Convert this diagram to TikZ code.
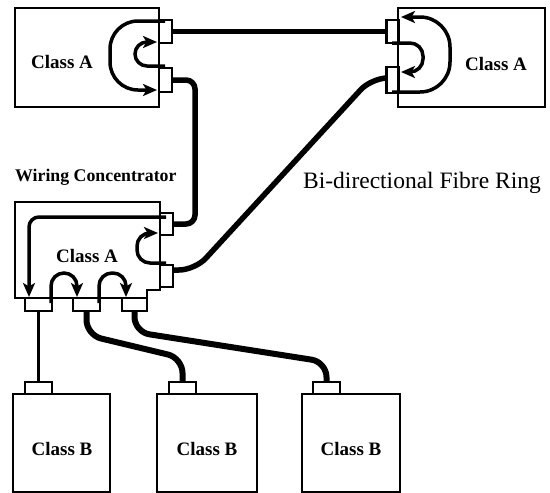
\documentclass[tikz,border=0pt]{standalone}
\usepackage{fontspec}
\setmainfont{Liberation Serif}
\usetikzlibrary{arrows.meta}
\begin{document}
\begin{tikzpicture}[x=1pt,y=-1pt,
  box/.style={draw, line width=2.9pt, inner sep=0pt, outer sep=0pt, line join=miter},
  port/.style={draw, line width=2.3pt, inner sep=0pt, outer sep=0pt},
  lbl/.style={font=\fontsize{19}{21}\selectfont\bfseries, inner sep=0pt},
  ring/.style={line width=5.5pt, rounded corners=9pt},
  feed/.style={line width=6pt, rounded corners=15pt},
  innerloop/.style={line width=3.5pt, -{Stealth[length=14pt,width=12pt,inset=3.5pt]}},
]
\useasboundingbox (0,0) rectangle (550,493);

% boxes
\node[box, minimum width=144pt, minimum height=99pt] (tlA) at (87,57.5) {};
\node[box, minimum width=147pt, minimum height=99pt] (trA) at (471.5,57.5) {};
\draw[line width=2.9pt] (15,202) -- (160,202) -- (160,290) -- (147,290) -- (147,298) -- (15,298) -- cycle;
\node[box, minimum width=97pt, minimum height=98pt] (b1) at (61.5,443) {};
\node[box, minimum width=100pt, minimum height=98pt] (b2) at (207,443) {};
\node[box, minimum width=98pt, minimum height=98pt] (b3) at (351,443) {};

% ports
\node[port, minimum width=13pt, minimum height=23pt] (tlP1) at (165.5,31.5) {};
\node[port, minimum width=13pt, minimum height=24pt] (tlP2) at (165.5,80) {};
\node[port, minimum width=12pt, minimum height=23pt] (trP1) at (392.5,31.5) {};
\node[port, minimum width=12pt, minimum height=26pt] (trP2) at (392.5,80) {};
\node[port, minimum width=13pt, minimum height=22pt] (wcP1) at (166.5,224) {};
\node[port, minimum width=13pt, minimum height=22pt] (wcP2) at (166.5,276) {};
\node[port, minimum width=27pt, minimum height=13pt] (wcB1) at (38.5,304.5) {};
\node[port, minimum width=27pt, minimum height=13pt] (wcB2) at (86.5,304.5) {};
\node[port, minimum width=25pt, minimum height=13pt] (wcB3) at (134.5,304.5) {};
\node[port, minimum width=27pt, minimum height=12pt] (bP1) at (38.5,388) {};
\node[port, minimum width=27pt, minimum height=12pt] (bP2) at (182.5,388) {};
\node[port, minimum width=27pt, minimum height=12pt] (bP3) at (326.5,388) {};

% ring connectors
\draw[ring] (tlP1.east) -- (trP1.west);
\draw[ring] (tlP2.east) -- ++(23,0) |- (wcP1.east);
\draw[ring, rounded corners=16pt] ([yshift=6pt]wcP2.east) -- ++(22,0) -- ([xshift=-15pt,yshift=2pt]trP2.west) -- ([yshift=2pt]trP2.west);

% feeds to class B
\draw[line width=3.8pt] (wcB1.south) -- (bP1.north);
\draw[feed] (wcB2.south) -- ++(0,24) -- ([yshift=24pt]bP2.north) -- (bP2.north);
\draw[feed] (wcB3.south) -- ++(0,21) -- ([yshift=20pt]bP3.north) -- (bP3.north);

% inner loops, top-left
\draw[innerloop, rounded corners=28pt] (165,21) -- (110,21) -- (110,90) -- (157,90);
\draw[innerloop, rounded corners=12pt] (165,66) -- (135,66) -- (135,42) -- (157,42);
% inner loops, top-right
\draw[innerloop, rounded corners=30pt] (392,92) -- (450,92) -- (450,17) -- (401,17);
\draw[innerloop, rounded corners=13pt] (392,43) -- (423,43) -- (423,72) -- (401,72);
% inner loops, concentrator
\draw[innerloop, rounded corners=10pt] (166,217) -- (29,217) -- (29,297);
\draw[innerloop, rounded corners=13pt] (166,263) -- (137,263) -- (137,233) -- (158,233);
\draw[innerloop, rounded corners=13pt] (51,303) -- (51,273) -- (77,273) -- (77,297);
\draw[innerloop, rounded corners=13pt] (99,303) -- (99,273) -- (126,273) -- (126,297);

% labels
\node[lbl] (tA) at (62,62) {Class A};
\node[lbl] (rA) at (496,63.5) {Class A};
\node[lbl] (cA) at (87,256) {Class A};
\node[lbl] (tb1) at (62,449) {Class B};
\node[lbl] (tb2) at (207,449) {Class B};
\node[lbl] (tb3) at (351,449) {Class B};
\node[font=\fontsize{17.8}{19}\selectfont\bfseries, inner sep=0pt, anchor=base west] (wclbl) at (15,181) {Wiring Concentrator};
\node[font=\fontsize{23.5}{26}\selectfont, inner sep=0pt, anchor=base west] (ringlbl) at (303,188) {Bi-directional Fibre Ring};
\end{tikzpicture}
\end{document}
